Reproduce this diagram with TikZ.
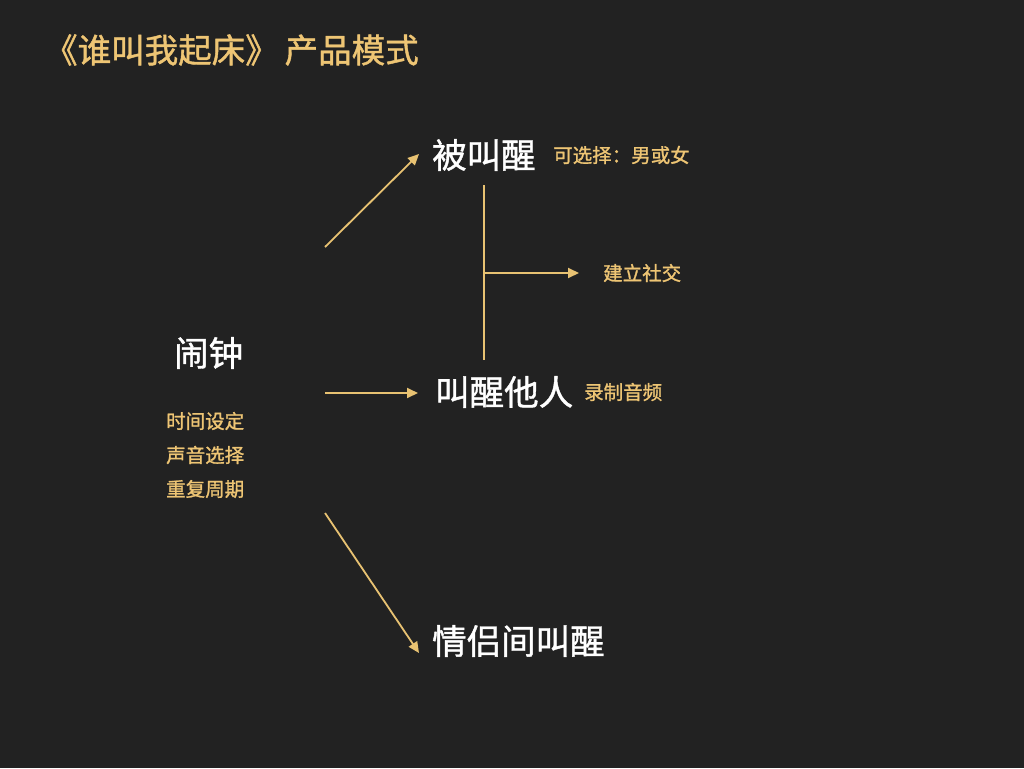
\documentclass[tikz,border=0pt]{standalone}
\usepackage{fontspec}
\newfontfamily\cjk{Noto Sans CJK SC}
\newfontfamily\cjkm[FakeBold=1.2]{Noto Sans CJK SC}
\usetikzlibrary{arrows.meta}
\definecolor{bg}{HTML}{222222}
\definecolor{gold}{HTML}{EEC574}
\definecolor{linegold}{HTML}{E8C272}
\tikzset{
  big/.style={anchor=west, inner sep=0pt, text=white, font=\cjkm\fontsize{34.5}{34.5}\selectfont},
  small/.style={anchor=west, inner sep=0pt, text=gold, font=\cjkm\fontsize{19.5}{19.5}\selectfont},
  titletext/.style={anchor=west, inner sep=0pt, text=gold, font=\cjkm\fontsize{33.5}{33.5}\selectfont},
  conn/.style={draw=linegold, line width=1.8pt, -{Triangle[length=11pt,width=10pt]}},
  plain/.style={draw=linegold, line width=1.8pt}
}
\begin{document}
\begin{tikzpicture}[x=1pt,y=-1pt]
\fill[bg] (0,0) rectangle (1024,768);
\useasboundingbox (0,0) rectangle (1024,768);
\node[titletext] (title) at (44,50) {《谁叫我起床》\hspace{6pt}产品模式};
\node[big] (alarm) at (174,353) {闹钟};
\node[small] (s1) at (166,421) {时间设定};
\node[small] (s2) at (166,455) {声音选择};
\node[small] (s3) at (166,489) {重复周期};
\node[big] (woken) at (432,155) {被叫醒};
\node[small] (choose) at (553,155) {可选择：男或女};
\node[big] (wakeother) at (435,392) {叫醒他人};
\node[small] (record) at (584,392) {录制音频};
\node[small] (social) at (603,273) {建立社交};
\node[big] (couple) at (432,641) {情侣间叫醒};
\coordinate (a1s) at (325,247);
\coordinate (a1e) at (419,154);
\coordinate (a2s) at (325,393);
\coordinate (a2e) at (418,393);
\coordinate (a3s) at (325,513);
\coordinate (a3e) at (419,653);
\coordinate (vt) at (484,185);
\coordinate (vb) at (484,360);
\coordinate (hm) at (484,273);
\coordinate (he) at (579,273);
\draw[conn] (a1s) -- (a1e);
\draw[conn] (a2s) -- (a2e);
\draw[conn] (a3s) -- (a3e);
\draw[plain] (vt) -- (vb);
\draw[conn] (hm) -- (he);
\end{tikzpicture}
\end{document}
